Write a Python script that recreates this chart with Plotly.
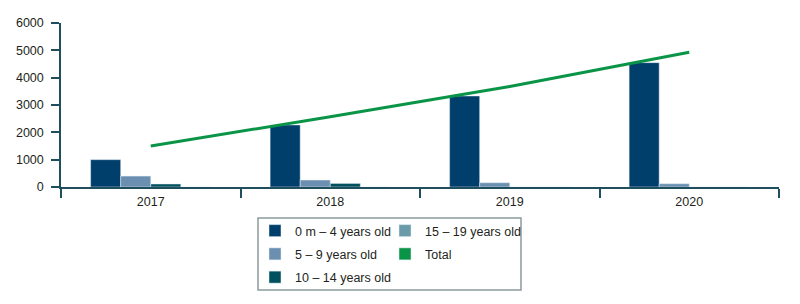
import plotly.graph_objects as go

years = ["2017", "2018", "2019", "2020"]
age_0_4 = [1000, 2270, 3330, 4550]
age_5_9 = [400, 255, 155, 120]
age_10_14 = [110, 130, 0, 0]
age_15_19 = [0, 0, 0, 0]
total = [1500, 2570, 3680, 4930]

c_0_4 = "#003f6b"
c_5_9 = "#6b8fb0"
c_10_14 = "#00505e"
c_15_19 = "#6b9ba8"
c_total = "#0a9447"
axis_col = "#1f4e5e"
txt = "#231f20"
fam = "Liberation Sans, Arial, sans-serif"

fig = go.Figure()
fig.add_bar(x=years, y=age_0_4, name="0 m – 4 years old", marker_color=c_0_4,
            legend="legend", legendrank=1)
fig.add_bar(x=years, y=age_5_9, name="5 – 9 years old", marker_color=c_5_9,
            legend="legend", legendrank=2)
fig.add_bar(x=years, y=age_10_14, name="10 – 14 years old", marker_color=c_10_14,
            legend="legend", legendrank=3)
fig.add_bar(x=years, y=age_15_19, name="15 – 19 years old", marker_color=c_15_19,
            legend="legend2", legendrank=1)
fig.add_scatter(x=years, y=total, mode="lines", name="Total",
                line=dict(color=c_total, width=3), showlegend=False)
# legend swatch for Total (square like reference)
fig.add_bar(x=years, y=[None] * 4, name="Total", marker_color=c_total,
            xaxis="x2", legend="legend2", legendrank=2)

L, R, T, B = 61, 21, 23, 117
W, H = 800, 304
pw = W - L - R
ph = H - T - B

def px_x(p):
    return (p - L) / pw

def px_y(p):
    return (H - B - p) / ph

fig.update_layout(
    width=W, height=H,
    margin=dict(l=L, r=R, t=T, b=B, autoexpand=False),
    plot_bgcolor="white", paper_bgcolor="white",
    barmode="group", bargap=0.33, bargroupgap=0,
    font=dict(family=fam, size=12, color=txt),
    xaxis=dict(type="category", tickson="boundaries", ticks="outside", ticklen=9,
               tickcolor=axis_col, tickwidth=1.5, showline=True, linecolor=axis_col,
               linewidth=1.5, showgrid=False, zeroline=False, automargin=False,
               ticklabelstandoff=2,
               tickfont=dict(family=fam, size=12.5, color=txt)),
    xaxis2=dict(type="category", overlaying="x", visible=False),
    yaxis=dict(range=[0, 6000], tickvals=[0, 1000, 2000, 3000, 4000, 5000, 6000],
               ticks="outside", ticklen=8, tickcolor=axis_col, tickwidth=1.5,
               showline=True, linecolor=axis_col, linewidth=1.5, showgrid=False,
               zeroline=False, automargin=False, ticklabelstandoff=5,
               tickfont=dict(family=fam, size=12.5, color=txt)),
    legend=dict(x=px_x(255), y=px_y(216), xanchor="left", yanchor="top",
                orientation="v", bgcolor="rgba(0,0,0,0)", borderwidth=0,
                traceorder="grouped", tracegroupgap=4,
                font=dict(family=fam, size=12.5, color=txt)),
    legend2=dict(x=px_x(385), y=px_y(216), xanchor="left", yanchor="top",
                 orientation="v", bgcolor="rgba(0,0,0,0)", borderwidth=0,
                 traceorder="grouped", tracegroupgap=4,
                 font=dict(family=fam, size=12.5, color=txt)),
    shapes=[dict(type="rect", xref="paper", yref="paper",
                 x0=px_x(258), x1=px_x(521), y0=px_y(218), y1=px_y(290),
                 line=dict(color="#8a9a9c", width=1.5), fillcolor="rgba(0,0,0,0)")],
)

# separate legend groups so tracegroupgap spaces items
for i, tr in enumerate(fig.data):
    tr.legendgroup = f"g{i}"

fig.write_html("out.html", config={"displayModeBar": False},
               post_script="document.body.style.margin='0';")
